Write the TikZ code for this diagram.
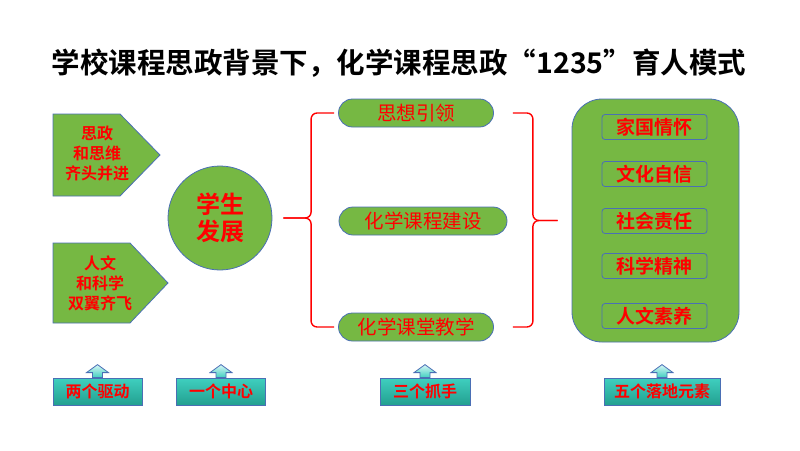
\documentclass[tikz,border=0pt]{standalone}
\usepackage{fontspec}
\usetikzlibrary{calc,positioning}
\newfontfamily\cjk{Noto Sans CJK SC}[BoldFont={Noto Sans CJK SC Bold}]
\definecolor{leaf}{HTML}{76B843}
\definecolor{edge}{HTML}{4A6FB5}
\definecolor{alert}{HTML}{FF0000}
\definecolor{tealtop}{HTML}{3FCFBF}
\definecolor{tealbot}{HTML}{23A090}
\definecolor{icetop}{HTML}{D8F6F6}
\tikzset{
  box/.style={fill=leaf, draw=edge, line width=0.8pt},
  ttl/.style={font=\cjk\bfseries\fontsize{28.5}{31}\selectfont},
  drv/.style={text=alert, align=center, font=\cjk\bfseries\fontsize{16}{20}\selectfont},
  core/.style={box, circle, minimum size=104pt, inner sep=0pt, text=alert, align=center,
    font=\cjk\bfseries\fontsize{24}{27}\selectfont},
  pill/.style={box, rounded corners=14pt, inner sep=0pt, minimum height=28pt, text=alert,
    font=\cjk\fontsize{19.5}{22}\selectfont},
  brace/.style={draw=alert, line width=1.4pt, rounded corners=6pt},
  panel/.style={box, rounded corners=30pt, minimum width=167pt, minimum height=243pt},
  virtue/.style={draw=edge, line width=0.8pt, rounded corners=3pt, minimum width=105pt,
    minimum height=25pt, inner sep=0pt, text=alert, font=\cjk\bfseries\fontsize{19}{22}\selectfont},
  post/.style={draw=edge, line width=0.8pt, top color=tealtop, bottom color=tealbot,
    minimum height=27pt, inner sep=0pt, text=alert, font=\cjk\bfseries\fontsize{16}{20}\selectfont},
  lift/.style={draw=edge, line width=0.8pt, top color=icetop, bottom color=tealtop}
}
\begin{document}
\begin{tikzpicture}[x=1pt,y=-1pt]
\useasboundingbox (0,0) rectangle (800,450);
\node[ttl] (title) at (399,63) {学校课程思政背景下，化学课程思政“1235”育人模式};
\draw[box] (53,114)--(120,114)--(160,155)--(120,196)--(53,196)--cycle;
\node[drv] (d1) at (97,153) {思政\\和思维\\齐头并进};
\draw[box] (53,243)--(130,243)--(168,283)--(130,323)--(53,323)--cycle;
\node[drv] (d2) at (100,283) {人文\\和科学\\双翼齐飞};
\node[core] (core) at (220,218) {学生\\发展};
\node[pill, minimum width=155pt] (e1) at (416,113) {思想引领};
\node[pill, minimum width=168pt] (e2) at (423,221) {化学课程建设};
\node[pill, minimum width=155pt] (e3) at (416,327) {化学课堂教学};
\draw[brace] ($(e1.west)+(-4,0)$) -- ++(-23,0) |- ($(core.east)+(11,0)$);
\draw[brace] ($(e3.west)+(-4,0)$) -- ++(-23,0) |- ($(core.east)+(11,0)$);
\node[panel] (panel) at (655.5,220.5) {};
\draw[brace] ($(e1.east)+(19,0)$) -- ++(20,0) |- ($(panel.west)+(-14,0)$);
\draw[brace] ($(e3.east)+(19,0)$) -- ++(20,0) |- ($(panel.west)+(-14,0)$);
\foreach \t/\y [count=\i] in {家国情怀/127, 文化自信/174, 社会责任/221, 科学精神/266, 人文素养/316}
  \node[virtue] (v\i) at (654.5,\y) {\t};
\node[post, minimum width=89pt] (p1) at (97.5,391.5) {两个驱动};
\node[post, minimum width=89pt] (p2) at (221,391.5) {一个中心};
\node[post, minimum width=90pt] (p3) at (425,391.5) {三个抓手};
\node[post, minimum width=116pt] (p4) at (662,391.5) {五个落地元素};
\foreach \p in {p1,p2,p3,p4}
  \draw[lift] ($(\p.north)+(-5,0)$) -- ++(0,-5) -- ++(-6,0) -- ($(\p.north)+(0,-13)$)
    -- ($(\p.north)+(11,-5)$) -- ++(-6,0) -- ++(0,5) -- cycle;
\end{tikzpicture}
\end{document}
